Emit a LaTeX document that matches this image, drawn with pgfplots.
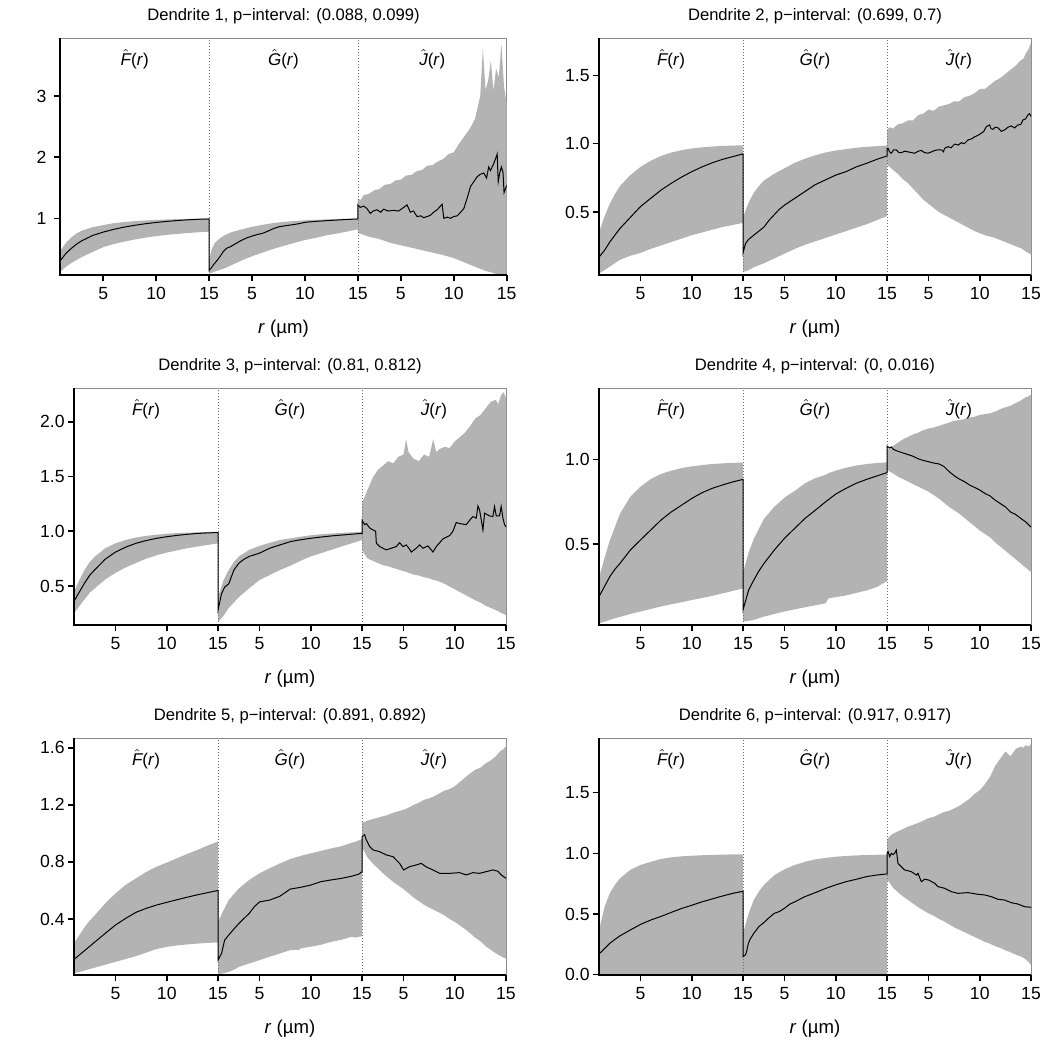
\documentclass[border=0pt]{standalone}
\usepackage{fontspec}
\setmainfont{Liberation Sans}
\usepackage{pgfplots}
\pgfplotsset{compat=1.18}
\usepackage{pgfplotstable}

\definecolor{band}{HTML}{B3B3B3}
\definecolor{frame}{HTML}{8C8C8C}
\definecolor{sepcol}{HTML}{707070}

% ---------------------------------------------------------------
% Envelopes (lo, hi) and observed summary (v) for every dendrite.
% s = 0,1,2 : F, G, J ;  r in micrometres (0.95 .. 15)
% ---------------------------------------------------------------
\pgfplotstableread{
s r lo hi
0 0.95 0.13 0.47
0 1.5 0.21 0.60
0 2 0.27 0.69
0 2.5 0.32 0.755
0 3 0.37 0.80
0 4 0.45 0.855
0 5 0.53 0.89
0 6 0.58 0.92
0 7 0.62 0.94
0 8 0.655 0.955
0 9 0.685 0.965
0 10 0.71 0.975
0 11 0.73 0.982
0 12 0.745 0.987
0 13 0.76 0.99
0 14 0.772 0.993
0 15 0.782 0.995
1 0.95 0.09 0.32
1 1.2 0.11 0.50
1 1.5 0.13 0.60
1 2 0.16 0.68
1 2.5 0.19 0.73
1 3 0.23 0.77
1 4 0.31 0.82
1 5 0.38 0.86
1 6 0.44 0.895
1 7 0.50 0.922
1 8 0.55 0.942
1 9 0.60 0.956
1 10 0.645 0.967
1 11 0.68 0.976
1 12 0.72 0.983
1 13 0.75 0.989
1 14 0.785 0.993
1 15 0.82 0.996
2 0.95 0.76 1.32
2 1.2 0.75 1.30
2 1.5 0.73 1.38
2 2 0.70 1.40
2 2.5 0.68 1.46
2 3 0.66 1.48
2 3.5 0.63 1.55
2 4 0.60 1.56
2 4.5 0.58 1.62
2 5 0.56 1.63
2 5.5 0.54 1.70
2 6 0.52 1.71
2 6.5 0.50 1.77
2 7 0.48 1.79
2 7.5 0.46 1.86
2 8 0.44 1.87
2 8.5 0.42 1.93
2 9 0.40 1.97
2 9.5 0.375 2.05
2 10 0.35 2.08
2 10.5 0.315 2.22
2 11 0.28 2.34
2 11.5 0.245 2.46
2 12 0.21 2.62
2 12.5 0.175 3.00
2 12.75 0.16 3.78
2 13 0.14 3.10
2 13.25 0.13 3.25
2 13.5 0.12 3.58
2 13.75 0.105 3.08
2 14 0.09 3.45
2 14.25 0.08 3.30
2 14.5 0.075 3.85
2 14.75 0.075 3.15
2 15 0.075 2.88
}\bandA
\pgfplotstableread{
s r v
0 0.95 0.31
0 1.5 0.43
0 2 0.51
0 2.5 0.58
0 3 0.635
0 4 0.72
0 5 0.775
0 6 0.82
0 7 0.857
0 8 0.887
0 9 0.912
0 10 0.933
0 11 0.95
0 12 0.964
0 13 0.976
0 14 0.985
0 15 0.99
1 0.95 0.15
1 1.2 0.2
1 1.4 0.25
1 1.7 0.31
1 2 0.38
1 2.3 0.46
1 2.6 0.51
1 3 0.54
1 3.5 0.59
1 4 0.64
1 4.5 0.68
1 5 0.71
1 5.5 0.735
1 6 0.755
1 6.5 0.79
1 7 0.83
1 7.5 0.86
1 8 0.875
1 9 0.9
1 9.5 0.915
1 10 0.935
1 11 0.95
1 12 0.962
1 13 0.972
1 14 0.982
1 15 0.99
2 0.95 1.22
2 1.17 1.18
2 1.5 1.2
2 1.8 1.16
2 2.12 1.08
2 2.4 1.12
2 2.75 1.14
2 3.1 1.1
2 3.38 1.15
2 3.8 1.12
2 4.33 1.13
2 4.8 1.12
2 5.2 1.17
2 5.59 1.22
2 5.9 1.1
2 6.2 1.12
2 6.53 1.03
2 6.9 1.04
2 7.16 1.01
2 7.5 1.03
2 7.8 1.05
2 8.1 1.1
2 8.43 1.14
2 8.9 1.23
2 9.06 1.0
2 9.4 1.02
2 9.69 1.0
2 10.0 1.03
2 10.32 1.04
2 10.65 1.1
2 10.95 1.16
2 11.3 1.35
2 11.58 1.52
2 11.9 1.6
2 12.21 1.68
2 12.5 1.72
2 12.84 1.74
2 13.1 1.66
2 13.3 1.84
2 13.47 1.78
2 13.79 1.9
2 14.1 2.05
2 14.2 1.6
2 14.35 1.75
2 14.5 1.84
2 14.65 1.75
2 14.75 1.42
2 15 1.54
}\lineA

\pgfplotstableread{
s r lo hi
0 0.95 0.05 0.35
0 1.5 0.075 0.47
0 2 0.10 0.56
0 2.5 0.125 0.63
0 3 0.15 0.69
0 4 0.18 0.77
0 5 0.20 0.83
0 6 0.23 0.875
0 7 0.255 0.91
0 8 0.28 0.935
0 9 0.305 0.952
0 10 0.33 0.965
0 11 0.35 0.973
0 12 0.37 0.979
0 13 0.39 0.983
0 14 0.405 0.986
0 15 0.42 0.988
1 0.95 0.06 0.46
1 1.5 0.075 0.57
1 2 0.095 0.64
1 2.5 0.11 0.69
1 3 0.125 0.73
1 4 0.16 0.78
1 5 0.195 0.82
1 6 0.23 0.86
1 7 0.26 0.89
1 8 0.285 0.915
1 9 0.31 0.935
1 10 0.335 0.95
1 11 0.36 0.96
1 12 0.385 0.97
1 13 0.41 0.977
1 14 0.44 0.982
1 15 0.47 0.986
2 0.95 0.85 1.10
2 1.2 0.83 1.12
2 1.5 0.81 1.11
2 2 0.78 1.14
2 2.5 0.74 1.15
2 3 0.71 1.17
2 3.5 0.67 1.17
2 4 0.63 1.21
2 4.5 0.59 1.22
2 5 0.56 1.25
2 5.5 0.53 1.24
2 6 0.50 1.27
2 6.5 0.48 1.28
2 7 0.46 1.29
2 7.5 0.44 1.31
2 8 0.42 1.31
2 8.5 0.40 1.34
2 9 0.38 1.35
2 9.5 0.36 1.37
2 10 0.345 1.40
2 10.5 0.33 1.40
2 11 0.32 1.43
2 11.5 0.31 1.46
2 12 0.295 1.48
2 12.5 0.28 1.51
2 13 0.265 1.54
2 13.5 0.25 1.57
2 14 0.235 1.61
2 14.25 0.225 1.62
2 14.5 0.21 1.66
2 14.75 0.2 1.69
2 15 0.19 1.74
}\bandB
\pgfplotstableread{
s r v
0 0.95 0.17
0 1.5 0.22
0 2 0.28
0 2.5 0.33
0 3 0.38
0 4 0.46
0 5 0.54
0 6 0.60
0 7 0.66
0 8 0.71
0 9 0.755
0 10 0.795
0 11 0.83
0 12 0.86
0 13 0.885
0 14 0.905
0 15 0.925
1 0.95 0.2
1 1.2 0.27
1 1.5 0.3
1 2 0.33
1 2.5 0.36
1 3 0.39
1 3.5 0.44
1 4 0.48
1 4.5 0.52
1 5 0.55
1 6 0.6
1 7 0.65
1 8 0.70
1 9 0.735
1 10 0.77
1 11 0.795
1 12 0.83
1 13 0.856
1 14 0.885
1 15 0.91
2 0.95 0.966
2 1.05 0.966
2 1.2 0.94
2 1.37 0.93
2 1.6 0.955
2 1.86 0.954
2 2.1 0.935
2 2.35 0.934
2 2.7 0.945
2 3.0 0.94
2 3.3 0.935
2 3.65 0.93
2 4.0 0.945
2 4.3 0.95
2 4.6 0.935
2 4.95 0.93
2 5.3 0.94
2 5.6 0.95
2 5.9 0.955
2 6.25 0.955
2 6.45 0.94
2 6.57 0.966
2 6.9 0.978
2 7.2 0.97
2 7.55 0.997
2 7.9 0.99
2 8.2 1.007
2 8.5 1.0
2 8.85 1.027
2 9.2 1.035
2 9.5 1.05
2 9.8 1.06
2 10.15 1.076
2 10.4 1.09
2 10.63 1.124
2 10.96 1.137
2 11.1 1.11
2 11.28 1.105
2 11.5 1.12
2 11.77 1.117
2 12.1 1.09
2 12.42 1.1
2 12.75 1.12
2 13.07 1.13
2 13.4 1.115
2 13.72 1.137
2 14.0 1.14
2 14.21 1.173
2 14.45 1.18
2 14.7 1.21
2 14.85 1.22
2 15 1.2
}\lineB

\pgfplotstableread{
s r lo hi
0 0.95 0.25 0.45
0 1.5 0.32 0.56
0 2 0.38 0.65
0 2.5 0.44 0.72
0 3 0.48 0.77
0 4 0.56 0.845
0 5 0.62 0.89
0 6 0.67 0.92
0 7 0.71 0.943
0 8 0.75 0.958
0 9 0.78 0.968
0 10 0.805 0.977
0 11 0.825 0.983
0 12 0.845 0.987
0 13 0.86 0.99
0 14 0.875 0.993
0 15 0.89 0.995
1 0.95 0.17 0.40
1 1.5 0.23 0.555
1 2 0.30 0.646
1 2.5 0.35 0.72
1 3 0.40 0.77
1 4 0.48 0.83
1 5 0.555 0.866
1 6 0.60 0.895
1 7 0.646 0.92
1 8 0.685 0.935
1 9 0.73 0.95
1 10 0.77 0.963
1 11 0.80 0.972
1 12 0.83 0.979
1 13 0.86 0.985
1 14 0.89 0.99
1 15 0.92 0.994
2 0.95 0.83 1.26
2 1.2 0.79 1.31
2 1.5 0.75 1.38
2 2 0.73 1.49
2 2.5 0.71 1.56
2 3 0.69 1.60
2 3.5 0.68 1.64
2 4 0.665 1.62
2 4.5 0.65 1.68
2 5 0.635 1.70
2 5.25 0.63 1.84
2 5.5 0.62 1.72
2 6 0.605 1.66
2 6.5 0.595 1.64
2 7 0.58 1.70
2 7.5 0.57 1.68
2 7.9 0.555 1.84
2 8.2 0.55 1.72
2 8.5 0.54 1.75
2 9 0.52 1.77
2 9.5 0.495 1.76
2 10 0.47 1.82
2 10.5 0.445 1.86
2 11 0.42 1.90
2 11.5 0.395 1.96
2 12 0.37 2.03
2 12.5 0.35 2.06
2 13 0.32 2.12
2 13.5 0.30 2.18
2 14 0.28 2.20
2 14.25 0.27 2.16
2 14.5 0.255 2.24
2 14.75 0.245 2.27
2 15 0.235 2.22
}\bandC
\pgfplotstableread{
s r v
0 0.95 0.36
0 1.5 0.45
0 2 0.53
0 2.5 0.6
0 3 0.65
0 4 0.745
0 5 0.81
0 6 0.855
0 7 0.89
0 8 0.915
0 9 0.935
0 10 0.95
0 11 0.962
0 12 0.972
0 13 0.98
0 14 0.985
0 15 0.988
1 0.95 0.28
1 1.3 0.43
1 1.6 0.49
1 2 0.52
1 2.5 0.645
1 3 0.71
1 3.5 0.745
1 4 0.77
1 5 0.8
1 6 0.845
1 7 0.875
1 8 0.905
1 9 0.922
1 10 0.936
1 11 0.947
1 12 0.957
1 13 0.965
1 14 0.973
1 15 0.98
2 0.95 1.1
2 1.21 1.06
2 1.37 1.07
2 1.70 1.03
2 2.02 1.012
2 2.28 1.0
2 2.35 0.89
2 2.67 0.86
2 3.0 0.845
2 3.32 0.83
2 3.81 0.845
2 4.3 0.86
2 4.62 0.896
2 4.95 0.86
2 5.27 0.875
2 5.6 0.835
2 5.76 0.81
2 6.25 0.845
2 6.57 0.875
2 6.9 0.845
2 7.38 0.866
2 7.71 0.83
2 7.87 0.81
2 8.2 0.86
2 8.85 0.93
2 9.5 0.96
2 9.82 1.0
2 10.15 1.08
2 10.47 1.07
2 11.12 1.06
2 11.45 1.1
2 11.77 1.134
2 12.1 1.12
2 12.26 1.23
2 12.42 1.195
2 12.75 1.012
2 12.91 1.165
2 13.4 1.14
2 13.72 1.134
2 13.88 1.226
2 14.05 1.14
2 14.37 1.14
2 14.53 1.226
2 14.7 1.12
2 14.86 1.06
2 15 1.04
}\lineC

\pgfplotstableread{
s r lo hi
0 0.95 0.03 0.30
0 1.5 0.04 0.42
0 2 0.05 0.52
0 2.5 0.06 0.60
0 3 0.068 0.68
0 4 0.085 0.78
0 5 0.10 0.84
0 6 0.115 0.885
0 7 0.13 0.915
0 8 0.143 0.935
0 9 0.155 0.95
0 10 0.168 0.96
0 11 0.18 0.968
0 12 0.193 0.974
0 13 0.207 0.978
0 14 0.222 0.981
0 15 0.237 0.983
1 0.95 0.04 0.33
1 1.5 0.045 0.45
1 2 0.05 0.53
1 2.5 0.06 0.59
1 3 0.07 0.65
1 4 0.085 0.72
1 5 0.10 0.775
1 6 0.113 0.815
1 7 0.125 0.86
1 8 0.137 0.89
1 9 0.148 0.91
1 9.3 0.178 0.92
1 10 0.185 0.935
1 11 0.195 0.952
1 12 0.21 0.965
1 13 0.225 0.974
1 14 0.245 0.98
1 15 0.28 0.984
2 0.95 0.94 1.06
2 1.2 0.93 1.07
2 1.5 0.92 1.08
2 2 0.90 1.10
2 2.5 0.885 1.12
2 3 0.87 1.135
2 3.5 0.855 1.15
2 4 0.84 1.16
2 4.5 0.825 1.175
2 5 0.81 1.185
2 5.5 0.79 1.19
2 6 0.77 1.20
2 6.5 0.745 1.21
2 7 0.72 1.22
2 7.5 0.70 1.23
2 8 0.68 1.235
2 8.5 0.655 1.24
2 9 0.63 1.25
2 9.5 0.605 1.255
2 10 0.58 1.265
2 10.5 0.56 1.27
2 11 0.54 1.275
2 11.5 0.51 1.285
2 12 0.485 1.30
2 12.5 0.46 1.31
2 13 0.435 1.32
2 13.5 0.41 1.335
2 14 0.385 1.35
2 14.25 0.37 1.36
2 14.5 0.36 1.37
2 14.75 0.345 1.375
2 15 0.335 1.385
}\bandD
\pgfplotstableread{
s r v
0 0.95 0.188
0 1.5 0.25
0 2 0.306
0 2.5 0.35
0 3 0.385
0 4 0.464
0 5 0.524
0 6 0.583
0 7 0.642
0 8 0.69
0 9 0.73
0 10 0.77
0 11 0.804
0 12 0.83
0 13 0.85
0 14 0.868
0 15 0.883
1 0.95 0.11
1 1.5 0.227
1 2 0.286
1 2.5 0.34
1 3 0.385
1 4 0.464
1 5 0.534
1 6 0.593
1 7 0.652
1 8 0.70
1 9 0.75
1 10 0.796
1 11 0.83
1 12 0.86
1 13 0.883
1 14 0.903
1 15 0.923
2 0.95 1.08
2 1.2 1.07
2 1.37 1.075
2 1.6 1.06
2 2 1.05
2 2.5 1.04
2 3 1.03
2 3.5 1.02
2 4 1.005
2 4.5 0.995
2 5 0.988
2 5.5 0.98
2 6 0.975
2 6.5 0.96
2 7 0.93
2 7.5 0.905
2 8 0.885
2 8.5 0.87
2 9 0.85
2 9.5 0.835
2 10 0.82
2 10.5 0.8
2 11 0.785
2 11.5 0.76
2 12 0.74
2 12.5 0.72
2 13 0.69
2 13.5 0.675
2 14 0.652
2 14.5 0.63
2 15 0.6
}\lineD

\pgfplotstableread{
s r lo hi
0 0.95 0.02 0.23
0 1.5 0.03 0.29
0 2 0.04 0.346
0 2.5 0.05 0.39
0 3 0.06 0.428
0 4 0.08 0.51
0 5 0.10 0.58
0 6 0.12 0.64
0 7 0.14 0.685
0 8 0.165 0.73
0 9 0.19 0.767
0 10 0.205 0.795
0 11 0.215 0.826
0 12 0.222 0.856
0 13 0.228 0.884
0 14 0.233 0.915
0 15 0.236 0.943
1 0.95 0.014 0.38
1 1.5 0.02 0.463
1 2 0.03 0.533
1 2.5 0.045 0.575
1 3 0.065 0.615
1 4 0.089 0.674
1 5 0.112 0.72
1 6 0.136 0.756
1 7 0.159 0.79
1 8 0.182 0.82
1 8.9 0.185 0.84
1 9 0.194 0.842
1 10 0.206 0.86
1 11 0.22 0.877
1 12 0.24 0.895
1 13 0.255 0.91
1 14 0.276 0.935
1 14.3 0.27 0.94
1 15 0.28 0.96
2 0.95 0.90 1.08
2 1.2 0.87 1.08
2 1.5 0.83 1.09
2 2 0.79 1.10
2 2.5 0.755 1.11
2 3 0.72 1.12
2 3.5 0.69 1.13
2 4 0.66 1.145
2 4.5 0.635 1.155
2 5 0.61 1.165
2 5.5 0.58 1.18
2 6 0.55 1.20
2 6.5 0.525 1.215
2 7 0.50 1.235
2 7.5 0.48 1.245
2 8 0.463 1.26
2 8.5 0.445 1.28
2 9 0.425 1.30
2 9.5 0.40 1.31
2 10 0.38 1.33
2 10.5 0.355 1.36
2 11 0.33 1.39
2 11.5 0.30 1.42
2 12 0.27 1.445
2 12.5 0.245 1.46
2 13 0.21 1.49
2 13.5 0.185 1.51
2 14 0.16 1.54
2 14.25 0.15 1.56
2 14.5 0.14 1.58
2 14.75 0.13 1.59
2 15 0.125 1.61
}\bandE
\pgfplotstableread{
s r v
0 0.95 0.117
0 1.5 0.15
0 2 0.18
0 2.5 0.21
0 3 0.24
0 4 0.3
0 5 0.358
0 6 0.405
0 7 0.447
0 8 0.475
0 9 0.498
0 10 0.517
0 11 0.535
0 12 0.553
0 13 0.57
0 14 0.585
0 15 0.6
1 0.95 0.112
1 1.3 0.16
1 1.6 0.253
1 2 0.288
1 2.5 0.33
1 3 0.37
1 4 0.44
1 4.5 0.487
1 5 0.52
1 6 0.533
1 7 0.56
1 8 0.61
1 9 0.622
1 10 0.638
1 11 0.662
1 12 0.674
1 13 0.685
1 14 0.7
1 14.7 0.715
1 15 0.732
2 0.95 0.978
2 1.21 0.99
2 1.37 0.954
2 1.7 0.908
2 2.02 0.884
2 2.67 0.872
2 3.32 0.849
2 3.97 0.837
2 4.62 0.79
2 5.01 0.744
2 5.6 0.767
2 6.25 0.779
2 6.73 0.79
2 7.22 0.765
2 7.87 0.744
2 8.52 0.72
2 9.5 0.72
2 10.47 0.725
2 11.12 0.709
2 11.77 0.725
2 12.42 0.72
2 13.07 0.732
2 13.72 0.744
2 14.21 0.735
2 14.53 0.709
2 15 0.685
}\lineE

\pgfplotstableread{
s r lo hi
0 0.95 0 0.368
0 1.5 0 0.56
0 2 0 0.67
0 2.5 0 0.74
0 3 0 0.794
0 4 0 0.863
0 5 0 0.904
0 6 0 0.93
0 7 0 0.953
0 8 0 0.967
0 9 0 0.975
0 10 0 0.98
0 11 0 0.984
0 12 0 0.987
0 13 0 0.989
0 14 0 0.991
0 15 0 0.992
1 0.95 0 0.34
1 1.5 0 0.505
1 2 0 0.615
1 2.5 0 0.685
1 3 0 0.74
1 4 0 0.82
1 5 0 0.868
1 6 0 0.904
1 7 0 0.93
1 8 0 0.95
1 9 0 0.962
1 10 0 0.972
1 11 0 0.978
1 12 0 0.983
1 13 0 0.986
1 14 0 0.988
1 15 0 0.99
2 0.95 0.78 1.11
2 1.2 0.76 1.14
2 1.5 0.72 1.16
2 2 0.68 1.18
2 2.5 0.645 1.20
2 3 0.615 1.22
2 3.5 0.585 1.235
2 4 0.555 1.25
2 4.5 0.53 1.27
2 5 0.505 1.29
2 5.5 0.485 1.30
2 6 0.46 1.32
2 6.5 0.44 1.34
2 7 0.415 1.35
2 7.5 0.39 1.37
2 8 0.37 1.39
2 8.5 0.35 1.42
2 9 0.33 1.45
2 9.5 0.31 1.49
2 10 0.29 1.52
2 10.5 0.27 1.57
2 11 0.255 1.63
2 11.5 0.235 1.72
2 12 0.22 1.78
2 12.5 0.20 1.84
2 13 0.185 1.80
2 13.5 0.165 1.86
2 14 0.15 1.88
2 14.25 0.14 1.87
2 14.5 0.125 1.89
2 14.75 0.105 1.88
2 15 0.08 1.90
}\bandF
\pgfplotstableread{
s r v
0 0.95 0.17
0 1.5 0.215
0 2 0.258
0 2.5 0.29
0 3 0.32
0 4 0.368
0 5 0.414
0 6 0.45
0 7 0.48
0 8 0.513
0 9 0.545
0 10 0.572
0 11 0.6
0 12 0.624
0 13 0.648
0 14 0.67
0 15 0.687
1 0.95 0.148
1 1.2 0.165
1 1.3 0.19
1 1.45 0.25
1 1.6 0.285
1 2 0.34
1 2.5 0.396
1 3 0.43
1 3.5 0.47
1 4 0.505
1 4.5 0.52
1 5 0.547
1 5.5 0.58
1 6 0.6
1 7 0.643
1 8 0.676
1 9 0.71
1 10 0.74
1 11 0.766
1 12 0.786
1 13 0.808
1 14 0.821
1 15 0.83
2 0.95 1.0
2 1.05 1.014
2 1.21 0.973
2 1.37 1.0
2 1.53 0.99
2 1.70 1.0
2 1.86 1.027
2 2.02 0.918
2 2.35 0.89
2 2.67 0.863
2 3.32 0.849
2 3.81 0.821
2 3.97 0.835
2 4.3 0.766
2 4.62 0.786
2 5.01 0.78
2 5.6 0.753
2 5.92 0.725
2 6.57 0.712
2 7.22 0.684
2 7.87 0.67
2 8.85 0.676
2 9.82 0.662
2 10.47 0.657
2 11.12 0.643
2 11.77 0.621
2 12.42 0.615
2 13.07 0.593
2 13.72 0.582
2 14.37 0.56
2 15 0.555
}\lineF

\pgfplotsset{
  dendrite/.style={
    scale only axis,
    width=216pt, height=118.35pt,
    xmin=0, xmax=42.15,
    axis line style={draw=frame, line width=0.5pt},
    tick align=outside,
    major tick length=3.2pt,
    every tick/.style={black, line width=0.8pt},
    xtick pos=bottom, ytick pos=left,
    xtick={4.05,9.05,14.05,18.1,23.1,28.1,32.15,37.15,42.15},
    xticklabels={5,10,15,5,10,15,5,10,15},
    /pgf/number format/assume math mode=true,
    tick label style={font=\fontsize{8.8}{10.5}\selectfont, inner sep=0pt},
    xticklabel style={anchor=base, yshift=-9.3pt},
    yticklabel style={anchor=east, xshift=-1.3pt},
    title style={font=\fontsize{8.3}{10}\selectfont, at={(0.5,1)}, anchor=base, yshift=2.9pt},
    xlabel={\textit{r} (µm)},
    xlabel style={font=\fontsize{9.3}{11}\selectfont, at={(0.5,0)}, anchor=base, yshift=-29.2pt},
  },
  onedec/.style={yticklabel style={/pgf/number format/.cd, fixed, fixed zerofill, precision=1}},
}
\tikzset{
  fnlabel/.style={anchor=base, font=\fontsize{8.5}{10}\selectfont},
  sepline/.style={sepcol, line width=0.4pt, dash pattern=on 0.5pt off 1pt},
}

% F, G and J blocks share one horizontal axis: block s sits at r - 0.95 + 14.05 s
\newcommand\envelope[2]{%
  \addplot[draw=none, stack plots=y, forget plot]
    table[x expr=\thisrow{r}-0.95+14.05*\thisrow{s}, y=lo]{#1};
  \addplot[fill=band, draw=none, stack plots=y]
    table[x expr=\thisrow{r}-0.95+14.05*\thisrow{s}, y expr=\thisrow{hi}-\thisrow{lo}]{#1} \closedcycle;
  \draw[sepline] (rel axis cs:0.33333,0) -- (rel axis cs:0.33333,1);
  \draw[sepline] (rel axis cs:0.66667,0) -- (rel axis cs:0.66667,1);
  \addplot[black, line width=0.5pt, stack plots=false]
    table[x expr=\thisrow{r}-0.95+14.05*\thisrow{s}, y=v]{#2};
  \node[fnlabel] at (rel axis cs:0.16667,0.887) {$\hat{\mbox{\itshape F}}$(\textit{r})};
  \node[fnlabel] at (rel axis cs:0.5,0.887) {$\hat{\mbox{\itshape G}}$(\textit{r})};
  \node[fnlabel] at (rel axis cs:0.83333,0.887) {$\hat{\mbox{\itshape J}}$(\textit{r})};
}
\newcommand\spine[1]{\draw[black, line width=1pt] (#1.north west) -- (#1.south west) -- (#1.south east);}

\begin{document}
\begin{tikzpicture}
\useasboundingbox (0,0) rectangle (525pt,525pt);

\begin{axis}[dendrite, name=pA, at={(30.15pt,387.5pt)}, anchor=south west,
  width=223.2pt, ymin=0.074, ymax=3.943, ytick={1,2,3},
  yticklabel style={xshift=-2.3pt},
  title={Dendrite 1, p−interval: (0.088, 0.099)}]
  \envelope{\bandA}{\lineA}
\end{axis}
\spine{pA}

\begin{axis}[dendrite, onedec, name=pB, at={(299.5pt,387.5pt)}, anchor=south west,
  ymin=0.039, ymax=1.771, ytick={0.5,1.0,1.5},
  title={Dendrite 2, p−interval: (0.699, 0.7)}]
  \envelope{\bandB}{\lineB}
\end{axis}
\spine{pB}

\begin{axis}[dendrite, onedec, name=pC, at={(37pt,212.5pt)}, anchor=south west,
  ymin=0.144, ymax=2.305, ytick={0.5,1.0,1.5,2.0},
  title={Dendrite 3, p−interval: (0.81, 0.812)}]
  \envelope{\bandC}{\lineC}
\end{axis}
\spine{pC}

\begin{axis}[dendrite, onedec, name=pD, at={(299.5pt,212.5pt)}, anchor=south west,
  ymin=0.02, ymax=1.423, ytick={0.5,1.0},
  title={Dendrite 4, p−interval: (0, 0.016)}]
  \envelope{\bandD}{\lineD}
\end{axis}
\spine{pD}

\begin{axis}[dendrite, onedec, name=pE, at={(37pt,37.5pt)}, anchor=south west,
  ymin=0.008, ymax=1.666, ytick={0.4,0.8,1.2,1.6},
  title={Dendrite 5, p−interval: (0.891, 0.892)}]
  \envelope{\bandE}{\lineE}
\end{axis}
\spine{pE}

\begin{axis}[dendrite, onedec, name=pF, at={(299.5pt,37.5pt)}, anchor=south west,
  ymin=-0.003, ymax=1.948, ytick={0,0.5,1.0,1.5},
  title={Dendrite 6, p−interval: (0.917, 0.917)}]
  \envelope{\bandF}{\lineF}
\end{axis}
\spine{pF}

\end{tikzpicture}
\end{document}
